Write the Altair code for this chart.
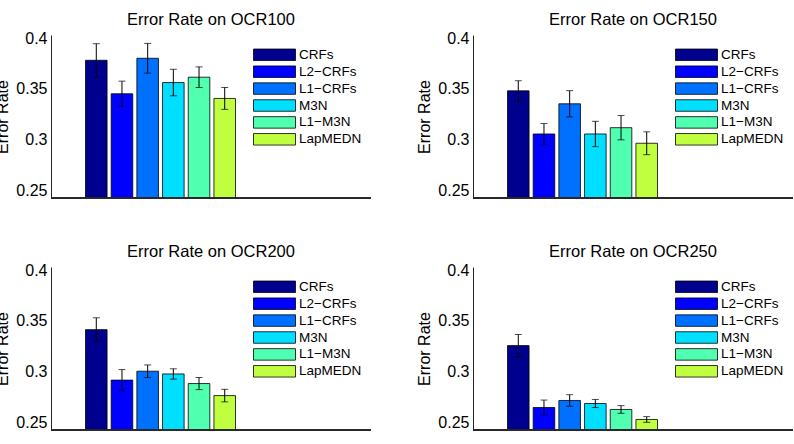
import altair as alt
import pandas as pd

methods = ["CRFs", "L2−CRFs", "L1−CRFs", "M3N", "L1−M3N", "LapMEDN"]
colors = ["#00008F", "#0000FF", "#0070FF", "#00DFFF", "#50FFB0", "#BFFF40"]
datasets = ["OCR100", "OCR150", "OCR200", "OCR250"]

rate_ocr100 = [0.3783, 0.3452, 0.3803, 0.3563, 0.3616, 0.3406]
err_ocr100 = [0.0164, 0.0125, 0.0147, 0.0131, 0.0102, 0.0108]
rate_ocr150 = [0.3481, 0.3055, 0.3353, 0.3055, 0.3117, 0.2963]
err_ocr150 = [0.0100, 0.0103, 0.0130, 0.0125, 0.0120, 0.0113]
rate_ocr200 = [0.3414, 0.2915, 0.3003, 0.2976, 0.2881, 0.2762]
err_ocr200 = [0.0117, 0.0104, 0.0062, 0.0051, 0.0060, 0.0062]
rate_ocr250 = [0.3256, 0.2644, 0.2714, 0.2684, 0.2625, 0.2526]
err_ocr250 = [0.0110, 0.0074, 0.0057, 0.0040, 0.0038, 0.0028]

rates = [rate_ocr100, rate_ocr150, rate_ocr200, rate_ocr250]
errs = [err_ocr100, err_ocr150, err_ocr200, err_ocr250]

y_ticks = [0.25, 0.3, 0.35, 0.4]
y_domain = [0.2422, 0.4033]

FONT = "Liberation Sans"
AXIS_COLOR = "#262626"
W, H = 320, 163


def panel(name, r, e):
    df = pd.DataFrame({"method": methods, "rate": r, "err": e})
    base = alt.Chart(df)
    x = alt.X(
        "method:N",
        sort=methods,
        scale=alt.Scale(domain=methods, paddingInner=0.16, paddingOuter=0, range=[34.5, 184.5]),
        axis=None,
    )
    y = alt.Y(
        "rate:Q",
        title="Error Rate",
        scale=alt.Scale(domain=y_domain, zero=False, nice=False),
        axis=alt.Axis(values=y_ticks, format="~g", ticks=False, grid=False,
                      labelFontSize=16, labelFont=FONT, labelColor="black", labelPadding=4,
                      titleFontSize=16, titleFont=FONT, titleFontWeight="normal",
                      titleColor="black", titlePadding=5,
                      domainColor=AXIS_COLOR, domainWidth=1),
    )
    bars = base.mark_bar(stroke="black", strokeWidth=0.8, clip=True).encode(
        x=x,
        y=y,
        color=alt.Color(
            "method:N",
            sort=methods,
            scale=alt.Scale(domain=methods, range=colors),
            legend=alt.Legend(
                title=None, orient="none", legendX=202, legendY=12.8,
                symbolType="M-1,-0.274H1V0.274H-1Z", symbolSize=1764,
                symbolStrokeColor="black", symbolStrokeWidth=0.8, symbolOpacity=1,
                labelFont=FONT, labelFontSize=13.5, labelColor="black",
                labelOffset=3, rowPadding=2.9, padding=0, clipHeight=14,
            ),
        ),
    )
    ebars = base.mark_errorbar(
        ticks={"size": 7, "thickness": 1, "color": "black"}, color="black", thickness=1
    ).encode(
        x=x,
        y=alt.Y("rate:Q", title="Error Rate", scale=alt.Scale(domain=y_domain, zero=False, nice=False)),
        yError="err:Q",
    )
    baseline = base.mark_rule(color=AXIS_COLOR, strokeWidth=1).encode(
        x=alt.value(0), x2=alt.value(W), y=alt.value(H)
    )
    return alt.layer(bars, ebars, baseline).properties(
        width=W,
        height=H,
        title=alt.TitleParams(
            text=f"Error Rate on {name}", font=FONT, fontSize=16.5, fontWeight="normal",
            color="black", anchor="middle", frame="group", baseline="alphabetic", offset=-11,
        ),
    )


panels = [panel(n, r, e) for n, r, e in zip(datasets, rates, errs)]

chart = (
    alt.concat(*panels, columns=2, spacing={"row": 44, "column": 44})
    .resolve_scale(color="independent")
    .resolve_legend(color="independent")
    .properties(padding={"left": -6, "top": 11, "right": 0, "bottom": 0})
    .configure_view(stroke=None)
)

chart.save("out.html", embed_options={"renderer": "svg", "actions": False})
